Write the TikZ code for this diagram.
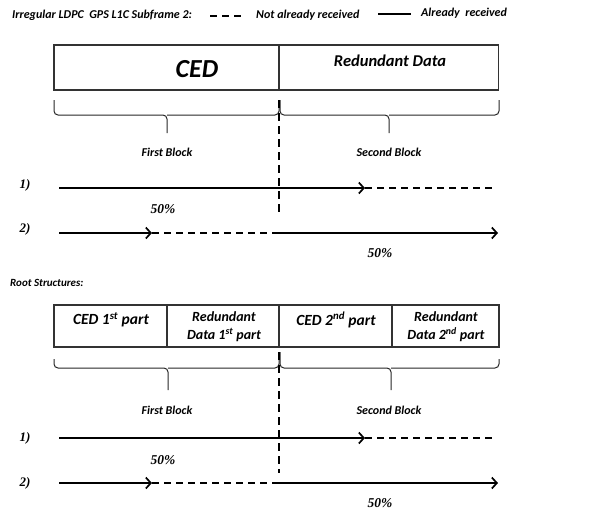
\documentclass[tikz,border=0pt]{standalone}
\usepackage{fontspec}
\setmainfont{Carlito}
\newfontfamily\numfont{Liberation Serif}
\usetikzlibrary{arrows.meta}
\begin{document}
\begin{tikzpicture}[x=1pt,y=-1pt,
  lbl/.style={inner sep=0pt,font=\bfseries\itshape},
  hdr/.style={lbl,font=\fontsize{12}{14}\selectfont\bfseries\itshape},
  blk/.style={lbl,font=\fontsize{12}{14}\selectfont\bfseries\itshape},
  num/.style={inner sep=0pt,font=\fontsize{13}{15}\selectfont\numfont\bfseries\itshape},
  pct/.style={inner sep=0pt,font=\fontsize{13.5}{15}\selectfont\numfont\bfseries\itshape},
  boxline/.style={draw=black!80,line width=1.1pt},
  brace/.style={draw=black!85,line width=1pt,rounded corners=4pt},
  gotarr/.style={line width=1.9pt,-{Straight Barb[length=5pt,width=11pt,line width=1.7pt]}},
  notyet/.style={line width=1.9pt,dash pattern=on 7pt off 5pt},
  sep/.style={line width=1.9pt,dash pattern=on 8pt off 5pt}]
\useasboundingbox (0,0) rectangle (616,512);
% header
\node[hdr,anchor=west] (title) at (12,15) {Irregular LDPC\ \ GPS L1C Subframe 2:};
\coordinate (l1a) at (210,16); \coordinate (l1b) at (246,16);
\draw[line width=1.6pt,dash pattern=on 7pt off 5pt] (l1a) -- (l1b);
\node[hdr,anchor=west] (notrec) at (256,15) {Not already received};
\coordinate (l2a) at (378,14); \coordinate (l2b) at (411,14);
\draw[line width=1.6pt] (l2a) -- (l2b);
\node[hdr,anchor=west] (rec) at (421,13) {Already\ \ received};

% ===== top structure =====
\node[boxline,minimum width=225pt,minimum height=45pt,inner sep=0pt] (ced) at (166.5,67.5) {};
\node[boxline,minimum width=219pt,minimum height=45pt,inner sep=0pt] (red) at (389,67.5) {};
\node[lbl,font=\fontsize{26}{28}\selectfont\bfseries\itshape] (cedt) at (197,69) {CED};
\node[lbl,font=\fontsize{16.5}{19}\selectfont\bfseries\itshape] (redt) at (390,61) {Redundant Data};
% braces
\draw[brace] (54,100) -- (54,115) -- (167,115) -- (167,133);
\draw[brace] (279,100) -- (279,115) -- (167,115);
\draw[brace] (280,100) -- (280,115) -- (389,115) -- (389,133);
\draw[brace] (499,100) -- (499,115) -- (389,115);
\coordinate (s1a) at (279,100); \coordinate (s1b) at (279,216);
\draw[sep] (s1a) -- (s1b);
\node[blk] (fb1) at (167,152) {First Block};
\node[blk] (sb1) at (389,152) {Second Block};
\node[num] (o1) at (25,185) {1)};
\node[num] (t1) at (25,229) {2)};
\coordinate (a1s) at (59,188); \coordinate (a1m) at (365,188); \coordinate (a1e) at (496,188);
\draw[gotarr] (a1s) -- (a1m);
\draw[notyet] (a1m) -- (a1e);
\node[pct] (p1) at (163,209) {50\%};
\coordinate (a2s) at (59,233); \coordinate (a2m) at (152,233); \coordinate (a2c) at (277,233); \coordinate (a2e) at (498,233);
\draw[gotarr] (a2s) -- (a2m);
\draw[notyet] (a2m) -- (a2c);
\draw[gotarr] (a2c) -- (a2e);
\node[pct] (p2) at (380,253) {50\%};

% ===== root structures =====
\node[lbl,font=\fontsize{11}{12}\selectfont\bfseries\itshape,anchor=west] (root) at (10,283) {Root Structures:};
\node[boxline,minimum width=113pt,minimum height=42pt,inner sep=0pt] (c1) at (110.5,326) {};
\node[boxline,minimum width=112pt,minimum height=42pt,inner sep=0pt] (r1) at (223,326) {};
\node[boxline,minimum width=113pt,minimum height=42pt,inner sep=0pt] (c2) at (335.5,326) {};
\node[boxline,minimum width=107pt,minimum height=42pt,inner sep=0pt] (r2) at (445.5,326) {};
\node[lbl,font=\fontsize{15.5}{18}\selectfont\bfseries\itshape] (c1t) at (111,320) {CED 1\textsuperscript{st} part};
\node[lbl,font=\fontsize{14}{18}\selectfont\bfseries\itshape,align=center] (r1t) at (224,327) {Redundant\\Data 1\textsuperscript{st} part};
\node[lbl,font=\fontsize{15.5}{18}\selectfont\bfseries\itshape] (c2t) at (336,320) {CED 2\textsuperscript{nd} part};
\node[lbl,font=\fontsize{14}{18}\selectfont\bfseries\itshape,align=center] (r2t) at (446,327) {Redundant\\Data 2\textsuperscript{nd} part};
% braces
\draw[brace] (54,359) -- (54,368) -- (168,368) -- (168,390);
\draw[brace] (279,352) -- (279,368) -- (168,368);
\draw[brace] (280,352) -- (280,368) -- (391,368) -- (391,390);
\draw[brace] (499,359) -- (499,368) -- (391,368);
\coordinate (s2a) at (279,352); \coordinate (s2b) at (279,473);
\draw[sep] (s2a) -- (s2b);
\node[blk] (fb2) at (167,410) {First Block};
\node[blk] (sb2) at (389,410) {Second Block};
\node[num] (o2) at (25,438) {1)};
\node[num] (t2) at (25,483) {2)};
\coordinate (b1s) at (59,438); \coordinate (b1m) at (365,438); \coordinate (b1e) at (496,438);
\draw[gotarr] (b1s) -- (b1m);
\draw[notyet] (b1m) -- (b1e);
\node[pct] (p3) at (163,460) {50\%};
\coordinate (b2s) at (59,483); \coordinate (b2m) at (152,483); \coordinate (b2c) at (277,483); \coordinate (b2e) at (498,483);
\draw[gotarr] (b2s) -- (b2m);
\draw[notyet] (b2m) -- (b2c);
\draw[gotarr] (b2c) -- (b2e);
\node[pct] (p4) at (380,503) {50\%};
\end{tikzpicture}
\end{document}
